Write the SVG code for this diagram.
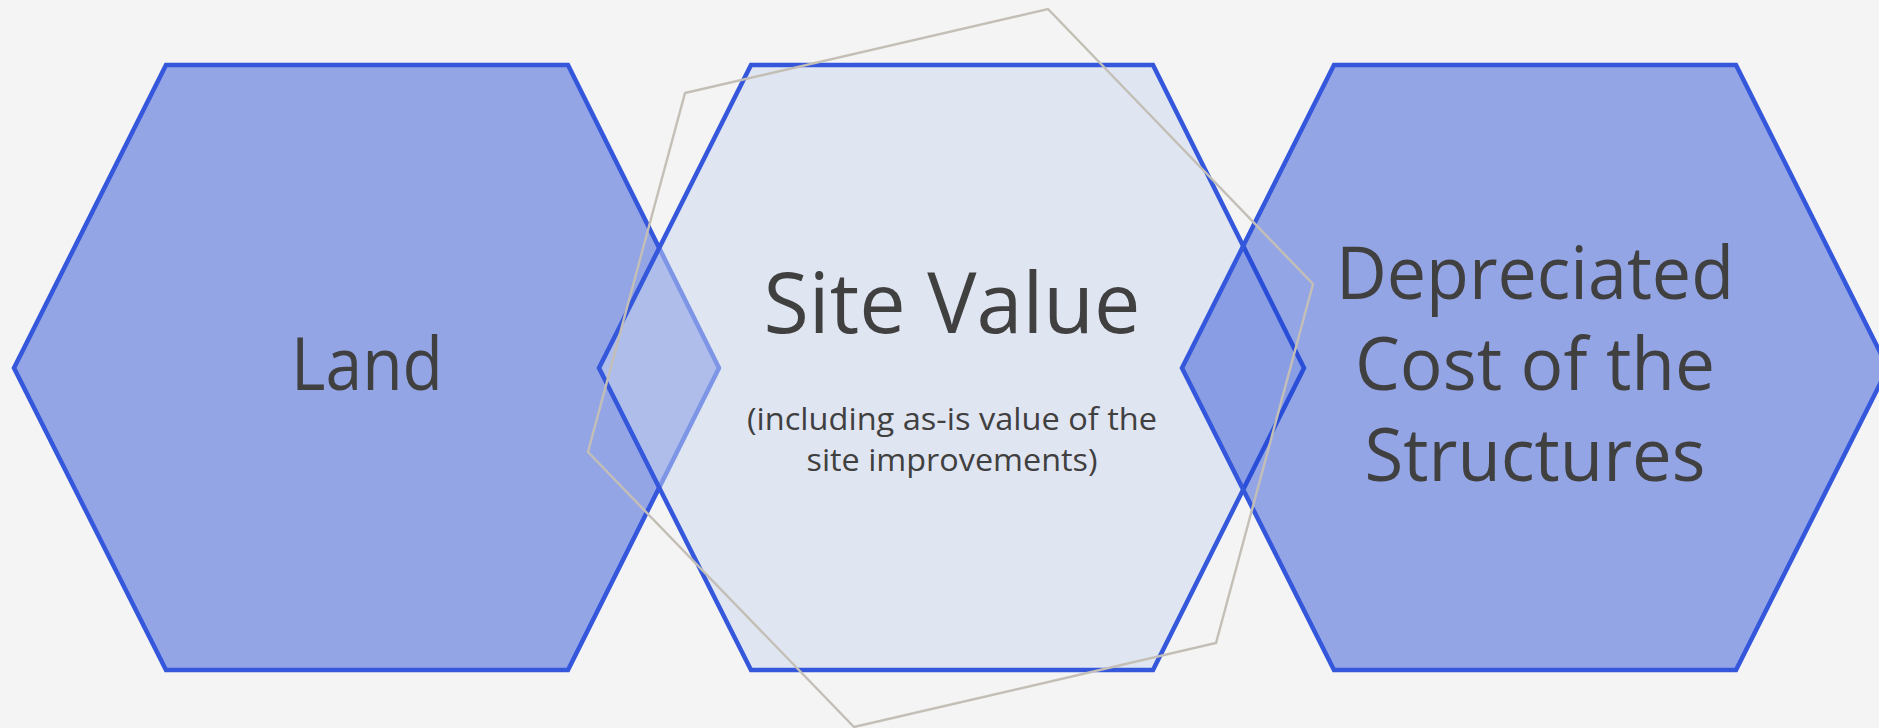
<svg xmlns="http://www.w3.org/2000/svg" width="1879" height="728" viewBox="0 0 1879 728">
  <style>
    .hex { stroke: #3457db; stroke-width: 4.5; stroke-linejoin: miter; }
    .outer { fill: rgba(31, 68, 211, 0.45); }
    .inner { fill: rgba(205, 215, 240, 0.49); }
    .label { font-family: "Open Sans", "Noto Sans", sans-serif; fill: #404040; text-anchor: middle; }
    .big { font-size: 74px; }
    .title { font-size: 85px; }
    .sub { font-size: 31px; }
    .frame { fill: none; stroke: #c4bfb6; stroke-width: 2.4; stroke-linejoin: miter; }
  </style>
  <rect width="1879" height="728" fill="#f4f4f4"/>

  <!-- left hexagon -->
  <g id="land">
    <polygon class="hex outer" points="14,368 166,65 568,65 719,368 568,670 166,670"/>
    <text class="label big" x="367" y="390" textLength="152" lengthAdjust="spacingAndGlyphs">Land</text>
  </g>

  <!-- centre hexagon -->
  <g id="site-value">
    <polygon class="hex inner" points="599,368 751,65 1153,65 1304,368 1153,670 751,670"/>
    <text class="label title" x="952" y="333" textLength="377" lengthAdjust="spacingAndGlyphs">Site Value</text>
    <text class="label sub" x="952" y="430" textLength="410" lengthAdjust="spacingAndGlyphs">(including as-is value of the</text>
    <text class="label sub" x="952" y="471" textLength="291" lengthAdjust="spacingAndGlyphs">site improvements)</text>
  </g>

  <!-- right hexagon -->
  <g id="structures">
    <polygon class="hex outer" points="1182,368 1334,65 1736,65 1888,368 1736,670 1334,670"/>
    <text class="label big" x="1535" y="299" textLength="398" lengthAdjust="spacingAndGlyphs">Depreciated</text>
    <text class="label big" x="1535" y="390" textLength="360" lengthAdjust="spacingAndGlyphs">Cost of the</text>
    <text class="label big" x="1535" y="481" textLength="341" lengthAdjust="spacingAndGlyphs">Structures</text>
  </g>

  <!-- thin rotated outline around the centre -->
  <g id="outline">
    <polygon class="frame" points="685,93 1048,9 1313,284 1216,643 854,727 588,452"/>
  </g>
</svg>
